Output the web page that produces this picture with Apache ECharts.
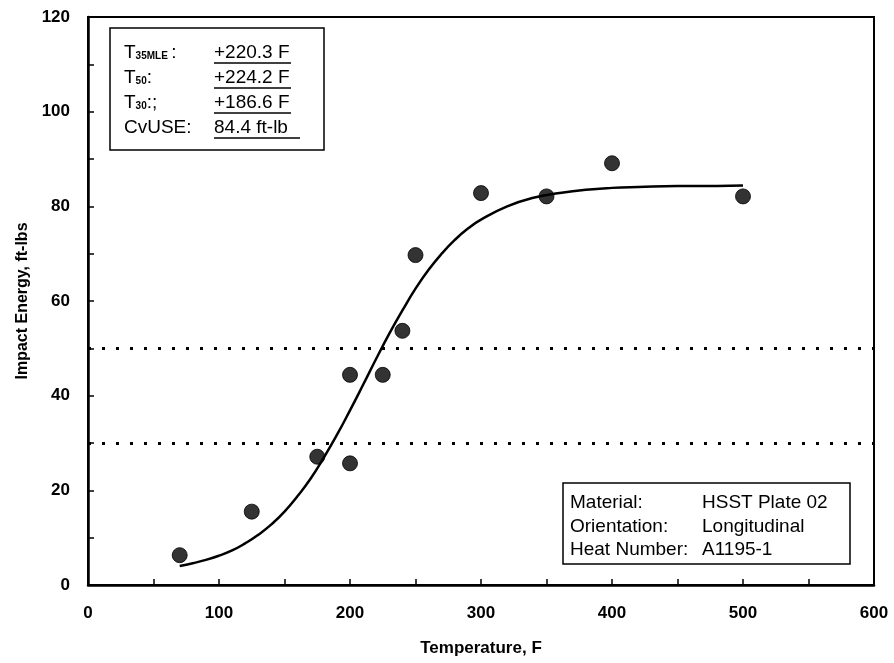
<!DOCTYPE html>
<html>
<head>
<meta charset="utf-8">
<script src="https://cdn.jsdelivr.net/npm/echarts@6/dist/echarts.min.js"></script>
<style>html,body{margin:0;padding:0;background:#fff}#c{width:894px;height:663px}</style>
</head>
<body>
<div id="c"></div>
<script>
// Measured Charpy data (Temperature F, Energy ft-lbs)
const tempData = [70, 125, 175, 200, 200, 225, 240, 250, 300, 350, 400, 500];
const energyData = [6.3, 15.5, 27.1, 44.4, 25.7, 44.4, 53.7, 69.7, 82.8, 82.1, 89.1, 82.1];
// Fitted curve
const curveTemp = [70, 80, 90, 100, 110, 120, 130, 140, 150, 160, 170, 180, 190, 200, 210, 220, 230, 240, 250, 260, 270, 280, 290, 300, 320, 340, 360, 380, 400, 420, 450, 480, 500];
const curveEnergy = [4.0, 4.6, 5.3, 6.2, 7.3, 8.8, 10.6, 12.8, 15.5, 18.8, 22.5, 26.9, 31.7, 36.9, 42.3, 47.8, 53.1, 58.0, 62.6, 66.6, 70.0, 72.9, 75.3, 77.2, 80.0, 81.8, 82.8, 83.5, 83.9, 84.1, 84.3, 84.3, 84.4];
const refLevels = [50, 30];
const xTicks = [0, 100, 200, 300, 400, 500, 600];
const yTicks = [0, 20, 40, 60, 80, 100, 120];
const topBoxLabels = ['{t|T}{s|35MLE} {t|:}', '{t|T}{s|50}{t|:}', '{t|T}{s|30}{t|:;}', '{t|CvUSE:}'];
const topBoxValues = ['+220.3 F', '+224.2 F', '+186.6 F', '84.4 ft-lb'];
const botBoxLabels = ['Material:', 'Orientation:', 'Heat Number:'];
const botBoxValues = ['HSST Plate 02', 'Longitudinal', 'A1195-1'];

const chart = echarts.init(document.getElementById('c'));
const F = 'Liberation Sans, Arial, Helvetica, sans-serif';
const BOXFONT = 19;

const graphics = [];
// top-left box
graphics.push({type:'rect', shape:{x:110, y:28, width:214, height:122}, style:{fill:'#fff', stroke:'#000', lineWidth:1.5}, z:10});
topBoxLabels.forEach((t,i)=>{
  graphics.push({type:'text', x:124, y:53+i*25, z:11, style:{text:t, verticalAlign:'middle', fill:'#000',
    rich:{t:{fontFamily:F, fontSize:BOXFONT, fill:'#000'}, s:{fontFamily:F, fontSize:10, fontWeight:'bold', fill:'#000', padding:[7,0,0,0]}}}});
});
topBoxValues.forEach((t,i)=>{
  graphics.push({type:'text', x:214, y:53+i*25, z:11, style:{text:t, verticalAlign:'middle', fontFamily:F, fontSize:BOXFONT, fill:'#000'}});
  graphics.push({type:'line', shape:{x1:214, y1:63+i*25, x2:214+(t.length>8?86:77), y2:63+i*25}, style:{stroke:'#000', lineWidth:1.3}, z:11});
});
// bottom-right box
graphics.push({type:'rect', shape:{x:563, y:483, width:287, height:81}, style:{fill:'#fff', stroke:'#000', lineWidth:1.5}, z:10});
botBoxLabels.forEach((t,i)=>{
  graphics.push({type:'text', x:570, y:503+i*23.5, z:11, style:{text:t, verticalAlign:'middle', fontFamily:F, fontSize:BOXFONT, fill:'#000'}});
});
botBoxValues.forEach((t,i)=>{
  graphics.push({type:'text', x:702, y:503+i*23.5, z:11, style:{text:t, verticalAlign:'middle', fontFamily:F, fontSize:BOXFONT, fill:'#000'}});
});

chart.setOption({
  animation:false,
  backgroundColor:'#fff',
  grid:{left:88, right:20, top:17, bottom:78, show:true, borderColor:'#000', borderWidth:2},
  xAxis:{type:'value', min:0, max:600, interval:100,
    name:'Temperature, F', nameLocation:'middle', nameGap:55,
    nameTextStyle:{fontFamily:F, fontSize:17, fontWeight:'bold', color:'#000'},
    axisLine:{show:true, onZero:false, lineStyle:{color:'#000', width:2.5}},
    axisTick:{show:true, inside:true, length:6, lineStyle:{color:'#000', width:1.5}},
    minorTick:{show:true, splitNumber:2, length:6, lineStyle:{color:'#000', width:1.5}},
    axisLabel:{fontFamily:F, fontSize:17, fontWeight:'bold', color:'#000', margin:20,
      formatter:v=>xTicks.includes(v)?String(v):''},
    splitLine:{show:false}},
  yAxis:{type:'value', min:0, max:120, interval:20,
    name:'Impact Energy, ft-lbs', nameLocation:'middle', nameGap:57,
    nameTextStyle:{fontFamily:F, fontSize:16, fontWeight:'bold', color:'#000'},
    axisLine:{show:true, onZero:false, lineStyle:{color:'#000', width:2.5}},
    axisTick:{show:true, inside:true, length:6, lineStyle:{color:'#000', width:1.5}},
    minorTick:{show:true, splitNumber:2, length:6, lineStyle:{color:'#000', width:1.5}},
    axisLabel:{fontFamily:F, fontSize:17, fontWeight:'bold', color:'#000', margin:18,
      formatter:v=>yTicks.includes(v)?String(v):''},
    splitLine:{show:false}},
  series:[
    {type:'line', data:curveTemp.map((t,i)=>[t, curveEnergy[i]]), smooth:true, showSymbol:false,
      lineStyle:{color:'#000', width:2.5}, z:3,
      markLine:{silent:true, symbol:'none', label:{show:false},
        lineStyle:{color:'#000', type:[3,11], width:3},
        data:refLevels.map(v=>({yAxis:v}))}},
    {type:'scatter', data:tempData.map((t,i)=>[t, energyData[i]]), symbol:'circle', symbolSize:15,
      itemStyle:{color:'#000', borderColor:'#000', borderWidth:1}, z:4}
  ],
  graphic:graphics
});
</script>
</body>
</html>
